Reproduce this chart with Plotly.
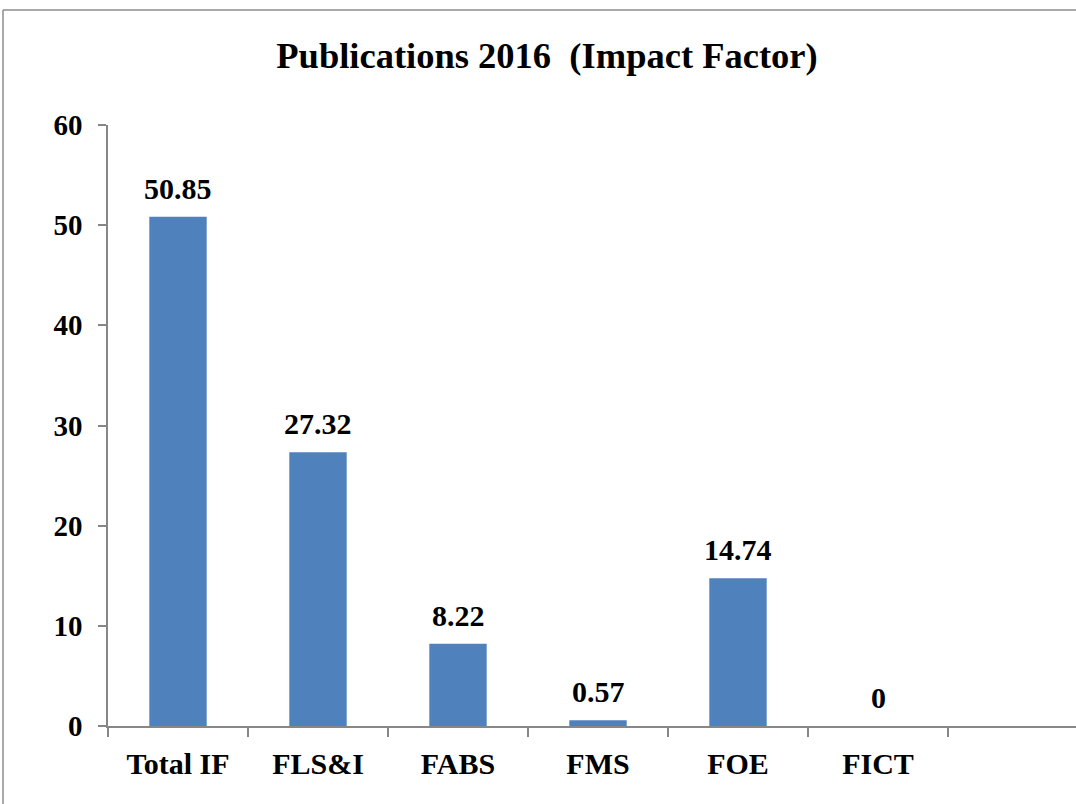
import plotly.graph_objects as go

categories = ["Total IF", "FLS&I", "FABS", "FMS", "FOE", "FICT"]
values = [50.85, 27.32, 8.22, 0.57, 14.74, 0]
value_labels = ["50.85", "27.32", "8.22", "0.57", "14.74", "0"]
all_slots = categories + [" "]
y_ticks = [0, 10, 20, 30, 40, 50, 60]

FONT = "Liberation Serif"
AXIS_COLOR = "#878787"

fig = go.Figure()
fig.add_trace(go.Bar(
    x=categories, y=values, width=0.41,
    marker=dict(color="#4F81BD", line=dict(width=0)),
    hoverinfo="x+y",
))

for c, v, t in zip(categories, values, value_labels):
    fig.add_annotation(x=c, y=v, text=f"<b>{t}</b>", showarrow=False,
                       yanchor="bottom", yshift=10,
                       font=dict(family=FONT, size=30, color="black"))

fig.update_layout(
    width=1076, height=804,
    margin=dict(l=108, r=0, t=125, b=78),
    paper_bgcolor="white", plot_bgcolor="white",
    showlegend=False,
    title=dict(text="<b>Publications 2016\u00a0\u00a0(Impact Factor)</b>",
               x=547 / 1076, xref="container", xanchor="center",
               y=1 - 55 / 804, yanchor="middle",
               font=dict(family=FONT, size=36.5, color="black")),
    xaxis=dict(type="category", categoryorder="array", categoryarray=all_slots,
               tickvals=all_slots, ticktext=[f"<b>{c}</b>" if c.strip() else " " for c in all_slots],
               range=[-0.5, -0.5 + 968 / 140],
               tickson="boundaries", ticks="outside", ticklen=9, tickwidth=1.5,
               tickcolor=AXIS_COLOR, showline=True, linecolor=AXIS_COLOR, linewidth=1.5,
               showgrid=False, zeroline=False, ticklabelstandoff=10,
               tickfont=dict(family=FONT, size=30, color="black")),
    yaxis=dict(range=[0, 60], tickvals=y_ticks, ticktext=[f"<b>{v}</b>" for v in y_ticks],
               ticks="outside", ticklen=8, tickwidth=1.5,
               tickcolor=AXIS_COLOR, showline=True, linecolor=AXIS_COLOR, linewidth=1.5,
               showgrid=False, zeroline=False, ticklabelstandoff=10,
               tickfont=dict(family=FONT, size=29, color="black")),
)

# outer chart border (top and left edges visible)
fig.add_shape(type="line", xref="paper", yref="paper",
              x0=(3 - 108) / 968, x1=1.01, y0=(726 - 10) / 601, y1=(726 - 10) / 601,
              line=dict(color="#8c8c8c", width=1.5))
fig.add_shape(type="line", xref="paper", yref="paper",
              x0=(3 - 108) / 968, x1=(3 - 108) / 968, y0=(726 - 10) / 601, y1=-0.2,
              line=dict(color="#8c8c8c", width=1.5))

fig.write_html("out.html", config={"displayModeBar": False},
               post_script="document.body.style.margin='0';")
